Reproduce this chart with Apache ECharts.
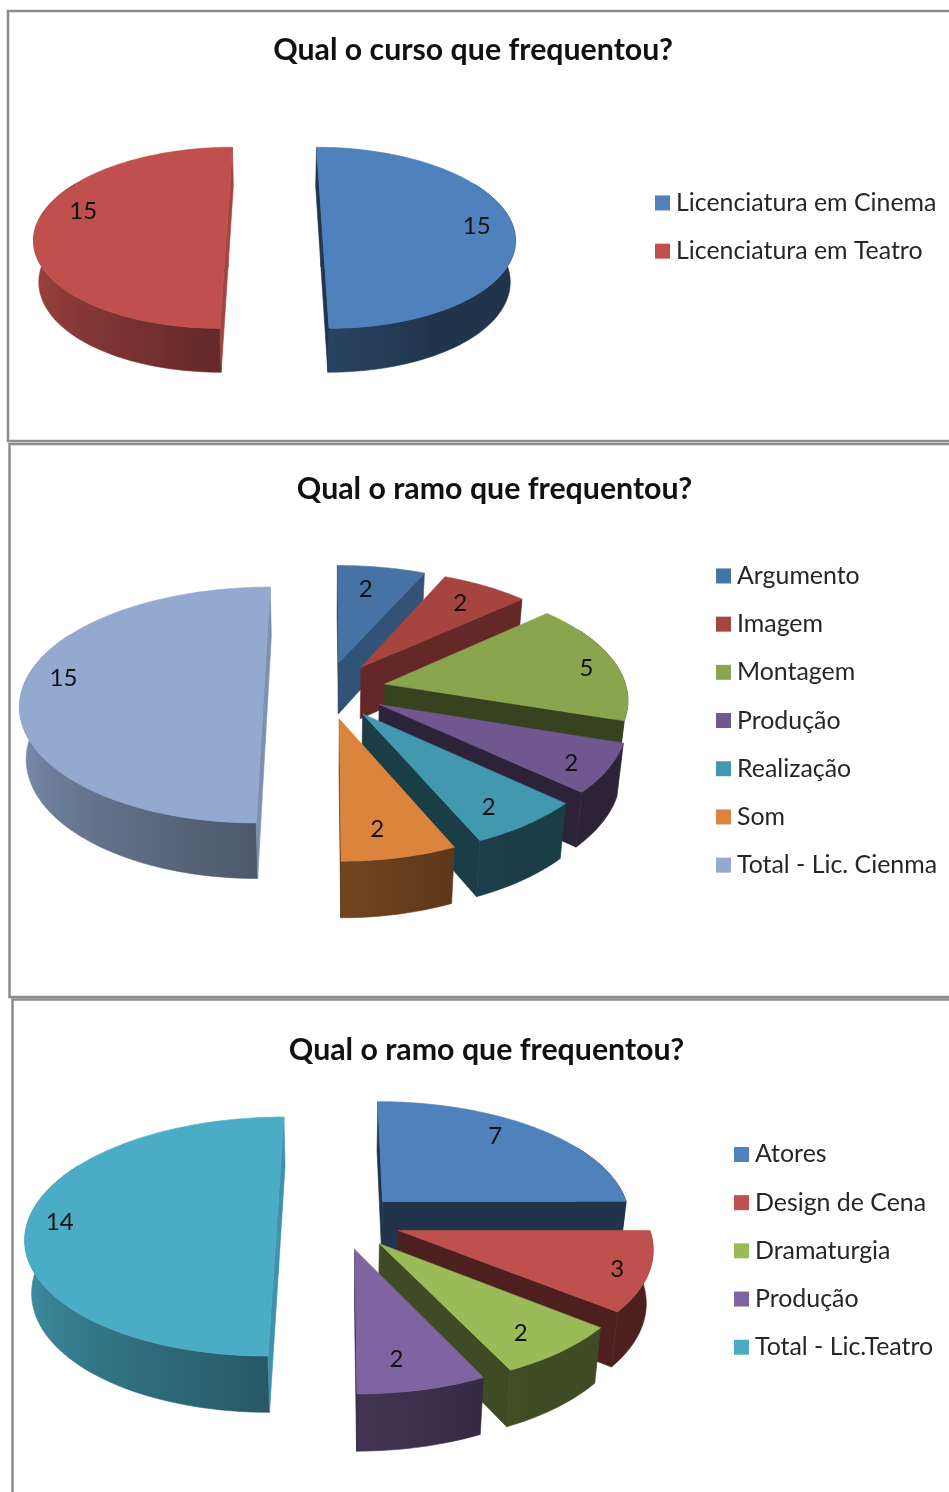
<!DOCTYPE html>
<html><head><meta charset="utf-8">
<style>html,body{margin:0;padding:0;background:#fff}#c{width:949px;height:1492px}</style>
<script src="https://cdn.jsdelivr.net/npm/echarts@6/dist/echarts.min.js"></script>
</head><body><div id="c"></div>
<script>
// ---- data ----
const title1 = 'Qual o curso que frequentou?';
const categories1 = ['Licenciatura em Cinema', 'Licenciatura em Teatro'];
const values1 = [15, 15];
const title2 = 'Qual o ramo que frequentou?';
const categories2 = ['Argumento', 'Imagem', 'Montagem', 'Produção', 'Realização', 'Som', 'Total - Lic. Cienma'];
const values2 = [2, 2, 5, 2, 2, 2, 15];
const title3 = 'Qual o ramo que frequentou?';
const categories3 = ['Atores', 'Design de Cena', 'Dramaturgia', 'Produção', 'Total - Lic.Teatro'];
const values3 = [7, 3, 2, 2, 14];
// ---- colours ----
const colors1 = ['#4f81bd', '#c0504d'];
const colors2 = ['#4672a6', '#a64440', '#89a54e', '#71578f', '#4198af', '#db843d', '#93a9cf'];
const colors3 = ['#4f81bd', '#c0504d', '#9bbb59', '#8064a2', '#4bacc6'];
// ---- layout (pixels) ----
const FONT = 'Lato, sans-serif';
const layouts = [
  {title: title1, cats: categories1, vals: values1, cols: colors1, cx: 274, cy: 226, rx: 191, ry: 89, dep: 41, e: .246, p: .13, px: .13, rightShift: 1, leftShift: 0,
   nudge: [[2,0],[9,-15]], titleX: 468, titleY: 49, legX: 655, legY: 202.5, panel: [8, 11, 1000, 430]},
  {title: title2, cats: categories2, vals: values2, cols: colors2, cx: 323, cy: 690, rx: 242, ry: 116, dep: 52, e: .248, p: .127, px: .115, rightShift: 3.5, leftShift: 1,
   nudge: [[-8,4],[-2,2],[18,3],[11,8],[-3,7],[-9,3],[-7,-12]], titleX: 489.5, titleY: 488, legX: 716, legY: 575.5, panel: [9.5, 444, 1000, 553]},
  {title: title3, cats: categories3, vals: values3, cols: colors3, cx: 337, cy: 1221, rx: 249, ry: 117.5, dep: 52.5, e: .241, p: .13, px: .13, rightShift: 4, leftShift: 0,
   nudge: [[-13,-6],[20,6],[-1,5],[-11,1],[-18,1]], titleX: 481.5, titleY: 1049, legX: 734, legY: 1154, panel: [12.5, 999.5, 1000, 600]}
];
const ROW = 48.2, LEG_FS = 24.9, TITLE_FS = 30.3, LABEL_FS = 24, WALL_SHRINK = .022;

function shade(hex, f) {
  const n = parseInt(hex.slice(1), 16);
  const c = [n >> 16 & 255, n >> 8 & 255, n & 255].map(v => Math.round(v * f));
  return 'rgb(' + c.join(',') + ')';
}
function lerpTable(tbl, x) {
  if (x <= tbl[0][0]) return tbl[0][1];
  for (let i = 1; i < tbl.length; i++) if (x <= tbl[i][0]) {
    const t = (x - tbl[i-1][0]) / (tbl[i][0] - tbl[i-1][0]);
    return tbl[i-1][1] + t * (tbl[i][1] - tbl[i-1][1]);
  }
  return tbl[tbl.length-1][1];
}
const outerShade = [[150,.4],[180,.52],[270,.9]];
const radialShade = [[90,.85],[114,.72],[138,.6],[180,.4],[360,.4]];
const rad = d => d * Math.PI / 180;

function slice3d(L, i, value) {
  const total = L.vals.reduce((a, b) => a + b, 0);
  const before = L.vals.slice(0, i).reduce((a, b) => a + b, 0);
  const a = before / total * 360, b = (before + value) / total * 360, mid = (a + b) / 2;
  const ou = L.e * Math.sin(rad(mid)), ov = -L.e * Math.cos(rad(mid));
  const sx = mid < 180 ? L.rightShift : L.leftShift;
  const P = (r, t, h) => {
    const u = ou + r * Math.sin(rad(t)), v = ov - r * Math.cos(rad(t)), w = 1 - L.p * v, wx = 1 - L.px * v;
    return [L.cx + sx + L.rx * u / wx * (1 - WALL_SHRINK * h), L.cy + L.ry * v / w + L.dep * h / Math.sqrt(w)];
  };
  const col = L.cols[i], kids = [];
  const poly = (pts, fill, z2) => kids.push({type: 'polygon', z2, shape: {points: pts},
    style: {fill, stroke: fill, lineWidth: .6}});
  // outer wall, shaded along x by the direction of its surface; the back part is hidden by the top face
  const t0 = Math.max(a, 60), t1 = Math.min(b, 300);
  if (t1 > t0) {
    const up = [], down = [], samples = [];
    for (let t = t0; t <= t1; t += 2) {
      up.push(P(1,t,0)); down.unshift(P(1,t,1));
      if (t >= 88 && t <= 272) samples.push([P(1,t,0)[0], t]);
    }
    up.push(P(1,t1,0)); down.unshift(P(1,t1,1));
    if (samples.length > 1) {
      const xs = samples.map(s => s[0]), minX = Math.min(...xs), maxX = Math.max(...xs);
      const stops = samples.map(s => ({offset: (s[0] - minX) / (maxX - minX), color: shade(col, lerpTable(outerShade, s[1]))}))
        .sort((p, q) => p.offset - q.offset);
      const fill = {type: 'linear', x: minX, y: 0, x2: maxX, y2: 0, global: true, colorStops: stops};
      poly(up.concat(down), fill, 1);
    }
  }
  // radial faces that look towards the viewer
  const nA = ((a - 90) % 360 + 360) % 360, nB = (b + 90) % 360;
  if (nA >= 88 && nA <= 272) poly([P(0,a,0), P(1,a,0), P(1,a,1), P(0,a,1)], shade(col, lerpTable(radialShade, nA)), 2);
  if (nB >= 88 && nB <= 272) poly([P(0,b,0), P(1,b,0), P(1,b,1), P(0,b,1)], shade(col, lerpTable(radialShade, nB)), 2);
  // top face
  const top = [P(0,a,0)];
  for (let t = a; t < b; t += 1) top.push(P(1,t,0));
  top.push(P(1,b,0));
  poly(top, col, 3);
  // value label
  const lp = P(.8, mid, 0), nd = L.nudge[i];
  kids.push({type: 'text', z2: 5, style: {x: lp[0] + nd[0], y: lp[1] + nd[1], text: String(value),
    font: LABEL_FS + 'px ' + FONT, fill: '#111', align: 'center', verticalAlign: 'middle'}});
  return {type: 'group', children: kids};
}

const series = [], titles = [], legends = [], graphics = [];
layouts.forEach(L => {
  const total = L.vals.reduce((a, b) => a + b, 0);
  let acc = 0;
  const depthOf = L.vals.map(v => { const m = (acc + v / 2) / total * 2 * Math.PI; acc += v; return -Math.cos(m); });
  const order = depthOf.map((d, i) => [d, i]).sort((x, y) => x[0] - y[0]).map(x => x[1]);
  L.cats.forEach((name, i) => {
    series.push({
      type: 'custom', name, coordinateSystem: 'none', silent: true, animation: false,
      z: 2 + order.indexOf(i), itemStyle: {color: L.cols[i]},
      data: [[L.vals[i]]],
      renderItem: (params, api) => slice3d(L, i, api.value(0))
    });
  });
  titles.push({text: L.title, left: L.titleX, top: L.titleY - TITLE_FS * .62, textAlign: 'center',
    textStyle: {fontFamily: FONT, fontSize: TITLE_FS, fontWeight: 'bold', color: '#111'}});
  legends.push({orient: 'vertical', left: L.legX, top: L.legY - ROW / 4, selectedMode: false,
    icon: 'rect', itemWidth: 15, itemHeight: 15, itemGap: ROW - 25, padding: 0,
    textStyle: {fontFamily: FONT, fontSize: LEG_FS, color: '#262626', lineHeight: 24, padding: [0, 0, 0, 1]},
    data: L.cats.map((name, i) => ({name, itemStyle: {color: L.cols[i]}}))});
  const q = L.panel;
  graphics.push({type: 'rect', silent: true, z: 0, shape: {x: q[0], y: q[1], width: q[2], height: q[3]},
    style: {fill: '#fff', stroke: '#8c8c8c', lineWidth: 2.5}});
});

const chart = echarts.init(document.getElementById('c'), null, {renderer: 'canvas'});
chart.setOption({backgroundColor: '#fff', animation: false, title: titles, legend: legends, graphic: graphics, series});
</script></body></html>
